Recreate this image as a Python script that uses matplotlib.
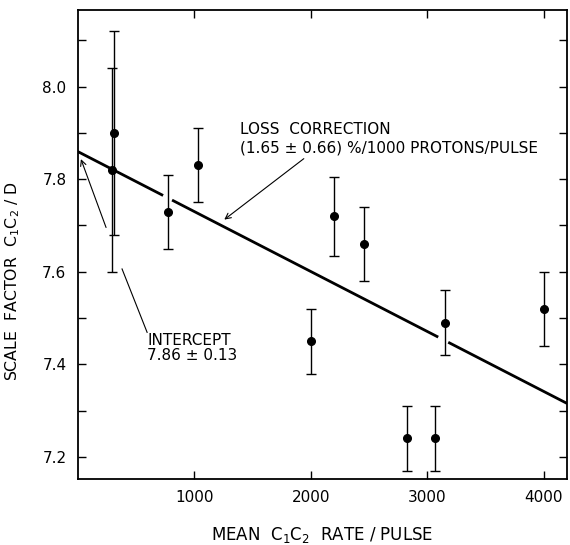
import numpy as np
import matplotlib.pyplot as plt

# measured points: mean C1C2 rate / pulse, scale factor, error
rate = [310, 300, 780, 1030, 2000, 2200, 2460, 2830, 3070, 3150, 4000]
scale = [7.90, 7.82, 7.73, 7.83, 7.45, 7.72, 7.66, 7.24, 7.24, 7.49, 7.52]
err = [0.22, 0.22, 0.08, 0.08, 0.07, 0.085, 0.08, 0.07, 0.07, 0.07, 0.08]

# fitted line: intercept and slope (% per 1000)
intercept = 7.86
loss_pct = 1.65
fit_range = [0, 4200]
fit_gaps = [(734, 811), (3094, 3180)]  # line is broken where it crosses error bars

xticks = [1000, 2000, 3000, 4000]
yticks = [7.2, 7.4, 7.6, 7.8, 8.0]

fig = plt.figure(figsize=(5.7, 5.45), dpi=100)
ax = fig.add_axes([0.136, 0.121, 0.859, 0.861])

def fit(x):
    return intercept * (1 - loss_pct / 100 * np.asarray(x) / 1000)

# fit line in pieces
edges = [fit_range[0]] + [v for g in fit_gaps for v in g] + [fit_range[1]]
for a, b in zip(edges[::2], edges[1::2]):
    xs = np.array([a, b])
    ax.plot(xs, fit(xs), color='black', lw=2.0, solid_capstyle='butt')

ax.errorbar(rate, scale, yerr=err, fmt='o', color='black', ms=5.5,
            elinewidth=1.0, capsize=3.5, capthick=1.0)

# annotations
ax.text(1390, 7.898, 'LOSS  CORRECTION', fontsize=11)
ax.text(1390, 7.858, '(1.65 \u00b1 0.66) %/1000 PROTONS/PULSE', fontsize=11)
ax.annotate('', xy=(1240, 7.709), xytext=(1960, 7.848),
            arrowprops=dict(arrowstyle='->', lw=0.8, color='black'))

ax.annotate('', xy=(21, 7.849), xytext=(253, 7.69),
            arrowprops=dict(arrowstyle='->', lw=0.8, color='black'))
ax.plot([382, 597], [7.606, 7.469], color='black', lw=0.8)
ax.text(597, 7.467, 'INTERCEPT\n7.86 \u00b1 0.13', fontsize=11, va='top',
        linespacing=0.95)

ax.set_xlim(0, 4200)
ax.set_ylim(7.152, 8.166)
ax.set_xticks(xticks)
ax.set_yticks(yticks)
ax.set_yticks(np.arange(7.3, 8.2, 0.2), minor=True)
ax.set_yticklabels(['%.1f' % v for v in yticks])
ax.tick_params(which='both', direction='in', top=True, right=True,
               labelsize=11, length=6, width=1.0, pad=8)
ax.tick_params(which='minor', length=6)
for s in ax.spines.values():
    s.set_linewidth(1.3)

ax.set_xlabel(r'MEAN  C$_\mathregular{1}$C$_\mathregular{2}$  RATE / PULSE',
              fontsize=12, labelpad=14)
ax.set_ylabel(r'SCALE  FACTOR  C$_\mathregular{1}$C$_\mathregular{2}$ / D',
              fontsize=11.3)
ax.yaxis.set_label_coords(-0.113, 0.422)

fig.savefig('out.png', dpi=100)
